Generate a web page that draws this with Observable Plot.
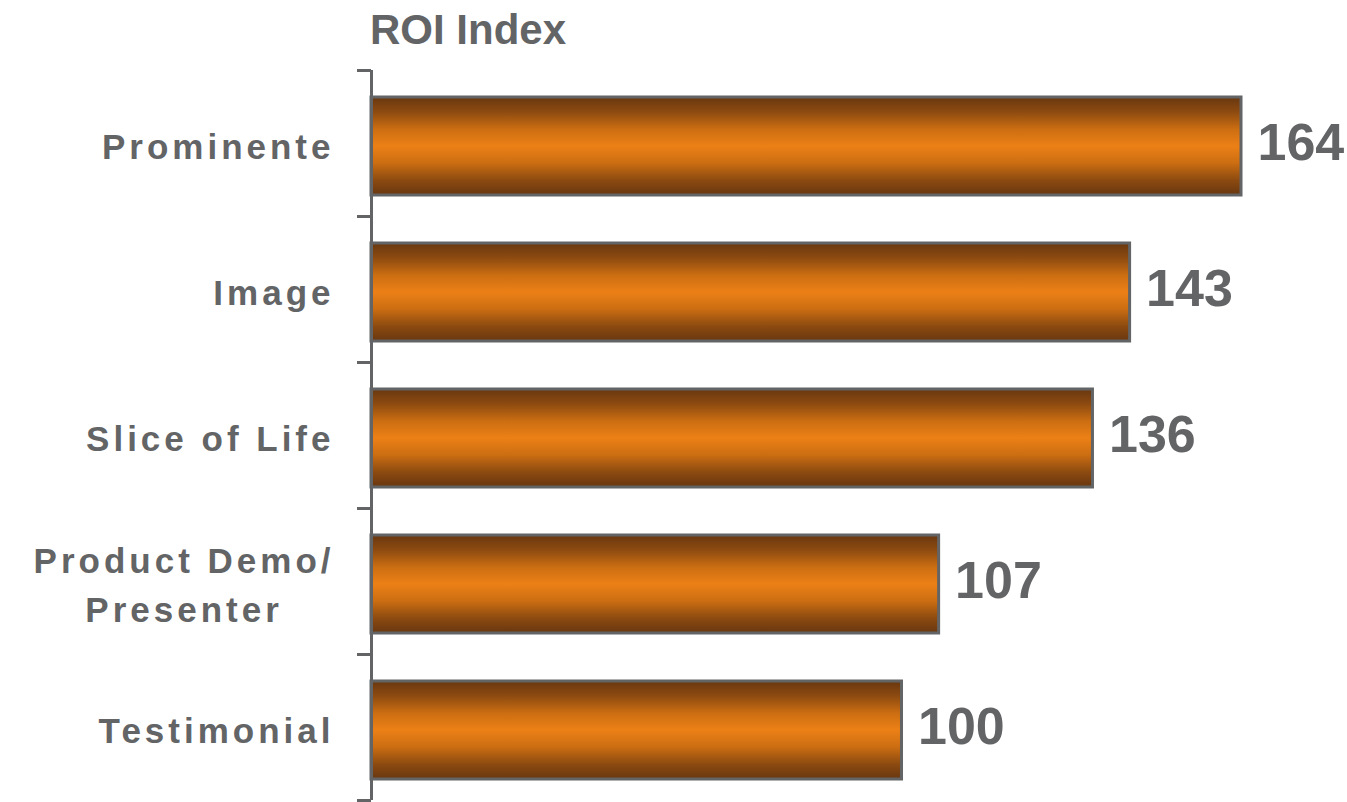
<!DOCTYPE html>
<html><head><meta charset="utf-8">
<script src="https://cdn.jsdelivr.net/npm/d3@7"></script>
<script src="https://cdn.jsdelivr.net/npm/@observablehq/plot@0.6"></script>
<style>
html,body{margin:0;padding:0;background:#fff;overflow:hidden;}
#title{height:52px;position:relative;}
#title span{position:absolute;left:370px;top:6px;font:bold 42px "Liberation Sans",Arial,sans-serif;color:#636466;white-space:nowrap;}
g[aria-label="y-axis tick label"] text{letter-spacing:4px;font-size:35px;font-weight:bold;}
g[aria-label="value labels"] text{letter-spacing:-3px;}
</style></head><body>
<div id="title"><span>ROI Index</span></div>
<div id="chart"></div>
<script>
const categories = ["Prominente", "Image", "Slice of Life", "Product Demo/\nPresenter", "Testimonial"];
const values = [164, 143, 136, 107, 100];

const data = categories.map((c, i) => ({cat: c, value: values[i]}));

const W = 1347, H = 750, mt = 18, mb = 2, ml = 371, mr = 106;
const step = (H - mt - mb) / categories.length;
const grey = "#636466";

const gradientDefs = () => {
  const ns = "http://www.w3.org/2000/svg";
  const defs = document.createElementNS(ns, "defs");
  const lg = document.createElementNS(ns, "linearGradient");
  lg.setAttribute("id", "roiGrad");
  lg.setAttribute("x1", "0"); lg.setAttribute("x2", "0");
  lg.setAttribute("y1", "0"); lg.setAttribute("y2", "1");
  [[0, "#683710"], [0.15, "#8c4a10"], [0.33, "#cc6e12"], [0.5, "#ec8016"], [0.67, "#cc6e12"], [0.85, "#8c4a10"], [1, "#683710"]]
    .forEach(([o, c]) => {
      const s = document.createElementNS(ns, "stop");
      s.setAttribute("offset", o);
      s.setAttribute("stop-color", c);
      lg.appendChild(s);
    });
  defs.appendChild(lg);
  return defs;
};

const plot = Plot.plot({
  width: W,
  height: H,
  marginTop: mt,
  marginBottom: mb,
  marginLeft: ml,
  marginRight: mr,
  style: {fontFamily: '"Liberation Sans", Arial, sans-serif', background: "#fff"},
  x: {domain: [0, 164], axis: null},
  y: {domain: categories, paddingInner: 0.33, paddingOuter: 0.165, label: null},
  marks: [
    gradientDefs,
    Plot.barX(data, {x: "value", y: "cat", fill: "url(#roiGrad)", stroke: grey, strokeWidth: 3, dy: 3}),
    Plot.ruleX([0], {stroke: grey, strokeWidth: 3}),
    Plot.axisY({tickSize: 14, tickFormat: () => "", dy: -step / 2, stroke: grey, strokeWidth: 3}),
    Plot.axisY({ticks: [categories[categories.length - 1]], tickSize: 14, tickFormat: () => "", dy: step / 2, stroke: grey, strokeWidth: 3}),
    Plot.axisY({tickSize: 0, tickPadding: 37, fontSize: 35, fontWeight: "bold", fill: grey, lineHeight: 1.4}),
    Plot.text(data, {x: "value", y: "cat", text: d => String(d.value), textAnchor: "start", dx: 16, fontSize: 52, fontWeight: "bold", fill: grey, ariaLabel: "value labels"})
  ]
});

document.getElementById("chart").append(plot);

// centre the lines of a multi-line category label within its block
d3.select(plot).selectAll('g[aria-label="y-axis tick label"] text').each(function() {
  const tspans = Array.from(this.querySelectorAll("tspan"));
  if (tspans.length > 1) {
    const widths = tspans.map(t => t.getComputedTextLength());
    const maxW = Math.max(...widths);
    tspans.forEach((t, i) => t.setAttribute("x", -(maxW - widths[i]) / 2));
  }
});
</script>
</body></html>
